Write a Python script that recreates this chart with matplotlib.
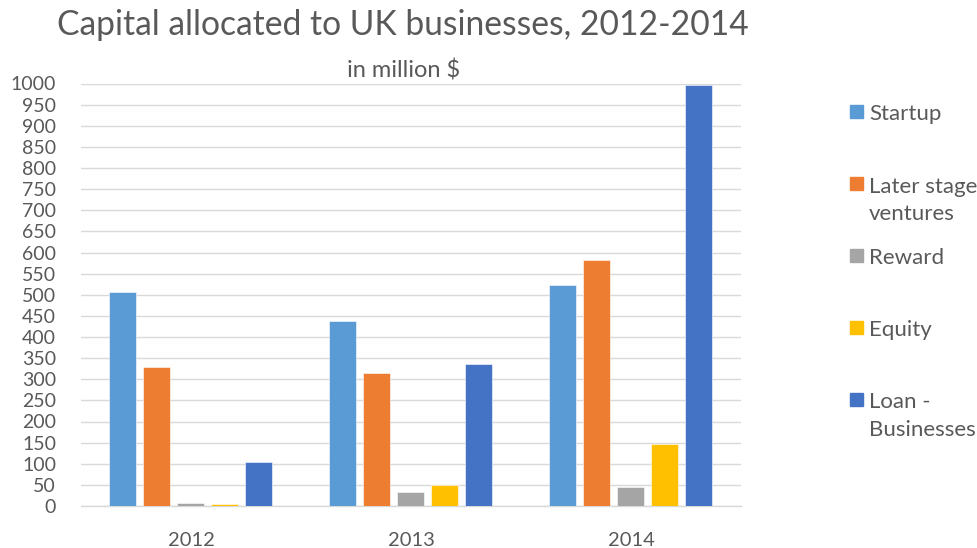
import matplotlib
matplotlib.use("Agg")
import matplotlib.pyplot as plt
import numpy as np
from matplotlib.patches import Rectangle

years = ["2012", "2013", "2014"]
series = ["Startup", "Later stage\nventures", "Reward", "Equity", "Loan -\nBusinesses"]
startup = [506, 439, 522]
later_stage = [330, 315, 583]
reward = [7, 33, 46]
equity = [5, 49, 147]
loan_businesses = [104, 336, 996]
values = [startup, later_stage, reward, equity, loan_businesses]
colors = ["#5B9BD5", "#ED7D31", "#A5A5A5", "#FFC000", "#4472C4"]
yticks = list(range(0, 1001, 50))

plt.rcParams['font.family'] = ['Lato', 'DejaVu Sans']
W, H = 978, 548
fig = plt.figure(figsize=(W / 100, H / 100), dpi=100)
ax = fig.add_axes([81 / W, 1 - 506 / H, (741 - 81) / W, (506 - 83.5) / H])

x = np.arange(len(years))
bw = 27 / 220
pitch = 34 / 220
for i, (vals, c) in enumerate(zip(values, colors)):
    ax.bar(x + (i - 2) * pitch, vals, width=bw, color=c, edgecolor="white",
           linewidth=0.4, zorder=3, label=series[i])

ax.set_xlim(-0.5, 2.5)
ax.set_ylim(0, 1000)
ax.set_yticks(yticks)
ax.set_yticklabels([str(t) for t in yticks])
ax.set_xticks(x)
ax.set_xticklabels(years)
ax.grid(axis="y", color="#D9D9D9", linewidth=1.0, zorder=0)
for s in ["top", "right", "left"]:
    ax.spines[s].set_visible(False)
ax.spines["bottom"].set_color("#D9D9D9")
ax.spines["bottom"].set_linewidth(1.0)
ax.tick_params(axis="y", length=0, pad=18, labelsize=14, labelcolor="#595959")
ax.tick_params(axis="x", length=0, pad=18.5, labelsize=14.5, labelcolor="#595959")

fig.text(403 / W, 1 - 35 / H, "Capital allocated to UK businesses, 2012-2014",
         ha="center", va="baseline", fontsize=24.2, color="#595959")
fig.text(403.5 / W, 1 - 77 / H, "in million $", ha="center", va="baseline",
         fontsize=17, color="#595959")

# legend
legend_y = [111.5, 183.5, 255.5, 327.5, 399.5]
for name, c, yy in zip(series, colors, legend_y):
    fig.add_artist(Rectangle((850 / W, 1 - (yy + 6.5) / H), 13 / W, 13 / H,
                             transform=fig.transFigure, color=c))
    for j, line in enumerate(name.split("\n")):
        fig.text(869 / W, 1 - (yy + 9 + 28 * j) / H, line, ha="left",
                 va="baseline", fontsize=16, color="#595959")

fig.savefig("out.png", dpi=100, facecolor="white")
